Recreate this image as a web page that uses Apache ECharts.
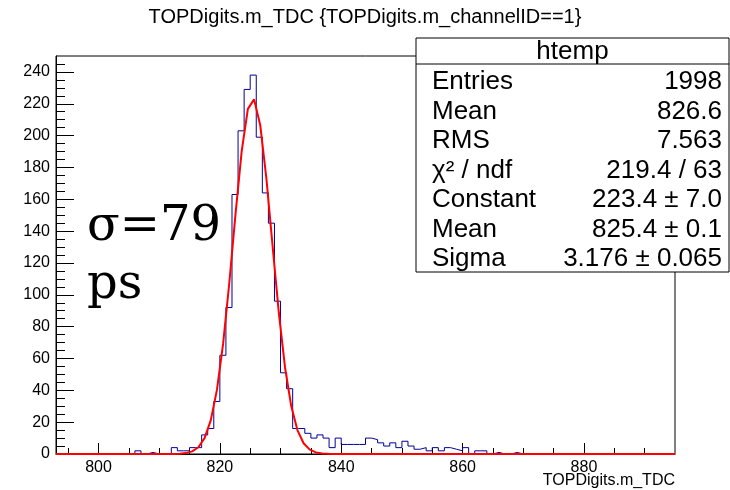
<!DOCTYPE html>
<html>
<head>
<meta charset="utf-8">
<script src="https://cdn.jsdelivr.net/npm/echarts@6/dist/echarts.min.js"></script>
<style>
  html, body { margin: 0; padding: 0; background: #ffffff; }
  #chart { width: 730px; height: 490px; }
</style>
</head>
<body>
<div id="chart"></div>
<script>
// ---- histogram content ----
const histTitle = 'TOPDigits.m_TDC {TOPDigits.m_channelID==1}';
const xTitle = 'TOPDigits.m_TDC';
const firstBinLow = 793;   // low edge of first bin
const binWidth = 1;
// counts per bin, bins 793 .. 894
const binCounts = [
  0, 0, 0, 0, 0, 0, 0, 0, 0, 0, 0, 0, 0,          // 793-805
  2, 0, 1, 0, 0, 0, 4, 2, 2, 4, 4,                // 806-816
  12, 16, 33, 62, 92, 163, 203, 229, 238, 199,    // 817-826
  164, 145, 96, 51, 41, 16, 16, 13, 10, 12,       // 827-836
  10, 4, 10, 6, 6, 6, 6, 10, 9, 7,                // 837-846
  5, 7, 4, 8, 5, 3, 4, 2, 4, 2,                   // 847-856
  4, 3, 2, 4, 0, 2, 2, 0, 1, 0,                   // 857-866
  0, 1,                                           // 867-868
  0, 0, 0, 0, 0, 0, 0, 0, 0, 0, 0, 0, 0,          // 869-881
  0, 0, 0, 0, 0, 0, 0, 0, 0, 0, 0, 0, 0           // 882-894
];
const xMin = 793, xMax = 895;
const yMin = 0, yMax = 250;
const xTickLabels = [800, 820, 840, 860, 880];
const yTickLabels = [0, 20, 40, 60, 80, 100, 120, 140, 160, 180, 200, 220, 240];

// Gaussian fit result
const fitConstant = 223.4;
const fitMean = 825.4;
const fitSigma = 3.176;
const fitPoints = 100;

// statistics box
const statsName = 'htemp';
const statsLabels = ['Entries', 'Mean', 'RMS', 'χ² / ndf', 'Constant', 'Mean', 'Sigma'];
const statsValues = ['1998', '826.6', '7.563', '219.4 / 63', '223.4 ± 7.0', '825.4 ± 0.1', '3.176 ± 0.065'];

// free annotation
const noteLines = ['σ=79', 'ps'];

// ---- derived series ----
const histLine = binCounts.map((c, i) => [firstBinLow + i * binWidth, c]);
histLine.push([firstBinLow + binCounts.length * binWidth, binCounts[binCounts.length - 1]]);

const fitLine = [];
for (let i = 0; i <= fitPoints; i++) {
  const x = xMin + (xMax - xMin) * i / fitPoints;
  const z = (x - fitMean) / fitSigma;
  fitLine.push([x, fitConstant * Math.exp(-0.5 * z * z)]);
}

function minorValues(lo, hi, step, major) {
  const out = [];
  for (let v = lo; v <= hi; v += step) if (v % major !== 0) out.push(v);
  return out;
}
const xMinor = minorValues(795, 890, 5, 20);
const yMinor = minorValues(5, 245, 5, 20);

const sansFont = 'Liberation Sans, Arial, Helvetica, sans-serif';
const black = '#000000';

// ---- stats box graphic ----
const boxLeft = 416, boxTop = 38, boxRight = 729, boxBottom = 272, headerBottom = 64;
const rowTop = 82, rowStep = 29.5;
const statsElements = [
  { type: 'rect', shape: { x: boxLeft, y: boxTop, width: boxRight - boxLeft, height: boxBottom - boxTop },
    style: { fill: '#ffffff', stroke: black, lineWidth: 1 }, z: 100 },
  { type: 'line', shape: { x1: boxLeft, y1: headerBottom, x2: boxRight, y2: headerBottom },
    style: { stroke: black, lineWidth: 1 }, z: 101 },
  { type: 'text', x: (boxLeft + boxRight) / 2, y: (boxTop + headerBottom) / 2 + 1, z: 101,
    style: { text: statsName, font: '26px ' + sansFont, fill: black, align: 'center', verticalAlign: 'middle' } }
];
statsLabels.forEach((lab, i) => {
  const y = rowTop + i * rowStep;
  statsElements.push({ type: 'text', x: 432, y: y, z: 101,
    style: { text: lab, font: '26px ' + sansFont, fill: black, align: 'left', verticalAlign: 'middle' } });
  statsElements.push({ type: 'text', x: 722, y: y, z: 101,
    style: { text: statsValues[i], font: '26px ' + sansFont, fill: black, align: 'right', verticalAlign: 'middle' } });
});

const chart = echarts.init(document.getElementById('chart'), null, { renderer: 'canvas' });
chart.setOption({
  animation: false,
  backgroundColor: '#ffffff',
  grid: {
    left: 56, right: 55, top: 56, bottom: 36,
    show: true, borderColor: black, borderWidth: 1, backgroundColor: 'transparent',
    containLabel: false, outerBoundsMode: 'none'
  },
  xAxis: [
    {
      type: 'value', min: xMin, max: xMax, position: 'bottom',
      axisLine: { show: true, onZero: false, lineStyle: { color: black, width: 1 } },
      axisTick: { show: true, inside: true, length: 11, customValues: xTickLabels, lineStyle: { color: black } },
      axisLabel: { show: true, customValues: xTickLabels, margin: 6, color: black, fontSize: 16, fontFamily: sansFont },
      splitLine: { show: false }
    },
    {
      type: 'value', min: xMin, max: xMax, position: 'bottom',
      axisLine: { show: false, onZero: false },
      axisTick: { show: true, inside: true, length: 6, customValues: xMinor, lineStyle: { color: black } },
      axisLabel: { show: false },
      splitLine: { show: false }
    }
  ],
  yAxis: [
    {
      type: 'value', min: yMin, max: yMax, position: 'left',
      axisLine: { show: true, onZero: false, lineStyle: { color: black, width: 1 } },
      axisTick: { show: true, inside: true, length: 18, customValues: yTickLabels, lineStyle: { color: black } },
      axisLabel: { show: true, customValues: yTickLabels, margin: 6, color: black, fontSize: 16, fontFamily: sansFont },
      splitLine: { show: false }
    },
    {
      type: 'value', min: yMin, max: yMax, position: 'left',
      axisLine: { show: false, onZero: false },
      axisTick: { show: true, inside: true, length: 9, customValues: yMinor, lineStyle: { color: black } },
      axisLabel: { show: false },
      splitLine: { show: false }
    }
  ],
  series: [
    {
      name: 'htemp', type: 'line', step: 'end', data: histLine,
      xAxisIndex: 0, yAxisIndex: 0, symbol: 'none', clip: true,
      lineStyle: { color: '#000099', width: 1 }, z: 3
    },
    {
      name: 'gaus', type: 'line', data: fitLine,
      xAxisIndex: 0, yAxisIndex: 0, symbol: 'none', clip: true,
      lineStyle: { color: '#ff0000', width: 2 }, z: 4
    }
  ],
  graphic: [
    { type: 'text', x: 365, y: 17, z: 50,
      style: { text: histTitle, font: '20px ' + sansFont, fill: black, align: 'center', verticalAlign: 'middle' } },
    { type: 'text', x: 675, y: 481, z: 50,
      style: { text: xTitle, font: '16px ' + sansFont, fill: black, align: 'right', verticalAlign: 'middle' } },
    { type: 'text', x: 87, y: 204, z: 50,
      style: { text: noteLines[0], font: '48px DejaVu Serif, serif', fill: black, align: 'left', verticalAlign: 'top' } },
    { type: 'text', x: 87, y: 262, z: 50,
      style: { text: noteLines[1], font: '48px DejaVu Serif, serif', fill: black, align: 'left', verticalAlign: 'top' } }
  ].concat(statsElements)
});
</script>
</body>
</html>
